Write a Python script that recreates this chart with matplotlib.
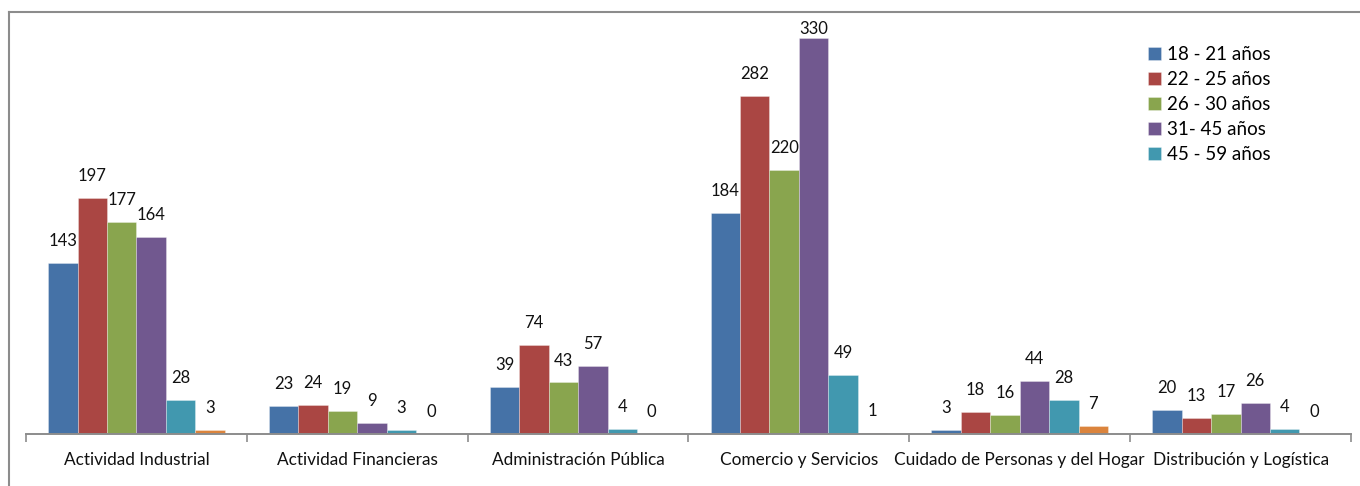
import numpy as np
import matplotlib.pyplot as plt
from matplotlib.lines import Line2D

plt.rcParams['font.family'] = ['Lato', 'DejaVu Sans']

categories = ["Actividad Industrial", "Actividad Financieras", "Administración Pública",
              "Comercio y Servicios", "Cuidado de Personas y del Hogar", "Distribución y Logística"]
series_names = ["18 - 21 años", "22 - 25 años", "26 - 30 años", "31- 45 años", "45 - 59 años", ""]
v18_21 = [143, 23, 39, 184, 3, 20]
v22_25 = [197, 24, 74, 282, 18, 13]
v26_30 = [177, 19, 43, 220, 16, 17]
v31_45 = [164, 9, 57, 330, 44, 26]
v45_59 = [28, 3, 4, 49, 28, 4]
v_otro = [3, 0, 0, 1, 7, 0]
series = [v18_21, v22_25, v26_30, v31_45, v45_59, v_otro]
colors = ["#4572A7", "#AA4643", "#89A54E", "#71588F", "#4198AF", "#DB843D"]

fig = plt.figure(figsize=(13.6, 4.86), dpi=100)
W, H = 1360, 486
ax = fig.add_axes([26 / W, 52 / H, (1351 - 26) / W, (434 - 18) / H])

ymax = 347
n = len(series)
bw = 0.8 / n
x = np.arange(len(categories))
for i, (vals, c, name) in enumerate(zip(series, colors, series_names)):
    pos = x - 0.4 + bw * (i + 0.5)
    ax.bar(pos, vals, width=bw, color=c, edgecolor=(1, 1, 1, 0.35), linewidth=0.6,
           label=name if name else "_nolegend_", zorder=2)
    for px, v in zip(pos, vals):
        ly = min(v + 18.3, 338)
        ax.text(px, ly, str(v), ha="center", va="center", fontsize=12, color="#111111")

ax.set_xlim(-0.5, len(categories) - 0.5)
ax.set_ylim(0, ymax)
for s in ["top", "right", "left"]:
    ax.spines[s].set_visible(False)
ax.spines["bottom"].set_color("#8c8c8c")
ax.spines["bottom"].set_linewidth(1.4)
ax.set_yticks([])
ax.set_xticks(x)
ax.set_xticklabels(categories, fontsize=12.4, color="#111111")
ax.tick_params(axis="x", which="major", length=0, pad=13)
ax.set_xticks(np.arange(-0.5, len(categories)), minor=True)
ax.tick_params(axis="x", which="minor", length=6, width=1.2, color="#8c8c8c", direction="out")

ax.legend(loc="upper left", bbox_to_anchor=((1137 - 26) / (1351 - 26), 0.96), frameon=False,
          fontsize=13.5, handlelength=0.7, handleheight=0.7, handletextpad=0.3,
          labelspacing=0.43, borderaxespad=0.2)

# outer chart border (left and top edges)
fig.add_artist(Line2D([9 / W, 9 / W], [0, 1 - 12 / H], color="#8c8c8c", lw=1.5,
                      transform=fig.transFigure))
fig.add_artist(Line2D([9 / W, 1], [1 - 12 / H, 1 - 12 / H], color="#8c8c8c", lw=1.5,
                      transform=fig.transFigure))

fig.savefig("out.png", dpi=100)
